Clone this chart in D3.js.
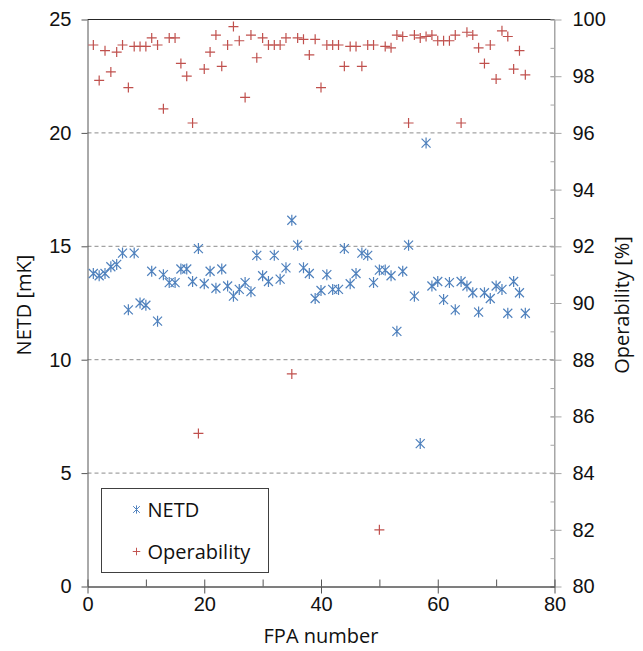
<!DOCTYPE html>
<html>
<head>
<meta charset="utf-8">
<script src="https://cdn.jsdelivr.net/npm/d3@7"></script>
<style>
  html, body { margin: 0; padding: 0; background: #fff; }
  svg { display: block; font-family: "Open Sans", sans-serif; }
  .axis text { font-size: 20px; fill: #111; }
</style>
</head>
<body>
<svg width="643" height="651"></svg>
<script>
// FPA index, one point per FPA
const fpa = [1,2,3,4,5,6,7,8,9,10,11,12,13,14,15,16,17,18,19,20,21,22,23,24,25,
  26,27,28,29,30,31,32,33,34,35,36,37,38,39,40,41,42,43,44,45,46,47,48,49,50,
  51,52,53,54,55,56,57,58,59,60,61,62,63,64,65,66,67,68,69,70,71,72,73,74,75]

// NETD [mK]
const netd = [13.8,13.7,13.8,14.1,14.2,14.7,12.2,14.7,12.5,12.4,13.9,11.7,13.75,13.4,13.4,
  14.0,14.0,13.45,14.9,13.35,13.9,13.15,14.0,13.25,12.8,13.1,13.4,13.0,14.6,13.7,
  13.45,14.6,13.55,14.05,16.15,15.05,14.05,13.8,12.7,13.05,13.75,13.1,13.1,14.9,13.35,
  13.8,14.7,14.6,13.4,13.95,13.95,13.7,11.25,13.9,15.05,12.8,6.3,19.55,13.25,13.45,
  12.65,13.4,12.2,13.45,13.25,12.95,12.1,12.95,12.7,13.25,13.1,12.05,13.45,12.95,12.05]

// Operability [%]
const operability = [99.1,97.85,98.9,98.15,98.85,99.1,97.6,99.05,99.05,99.05,99.35,99.1,96.85,99.35,99.35,
  98.45,98.0,96.35,85.4,98.25,98.85,99.45,98.35,99.1,99.75,99.25,97.25,99.45,98.65,99.35,
  99.1,99.1,99.1,99.35,87.5,99.35,99.3,98.75,99.3,97.6,99.1,99.1,99.1,98.35,99.05,
  99.05,98.35,99.1,99.1,82.0,99.05,99.0,99.45,99.4,96.35,99.45,99.35,99.4,99.45,99.25,
  99.25,99.25,99.45,96.35,99.55,99.45,99.0,98.45,99.1,97.9,99.6,99.4,98.25,98.9,98.05]

const xTicks = [0, 20, 40, 60, 80]
const xMinor = [0, 10, 20, 30, 40, 50, 60, 70, 80]
const yLeftTicks = [0, 5, 10, 15, 20, 25]
const yRightTicks = [80, 82, 84, 86, 88, 90, 92, 94, 96, 98, 100]
const yRightMinor = [80,81,82,83,84,85,86,87,88,89,90,91,92,93,94,95,96,97,98,99,100]

const blue = '#4f81bd'
const red = '#c0504d'

const pLeft = 87.5, pRight = 554.5, pTop = 19.5, pBottom = 586.5

const x = d3.scaleLinear().domain([0, 80]).range([pLeft, pRight])
const yL = d3.scaleLinear().domain([0, 25]).range([pBottom, pTop])
const yR = d3.scaleLinear().domain([80, 100]).range([pBottom, pTop])

const svg = d3.select('svg')

// dashed grid lines
svg.append('g')
  .selectAll('line')
  .data([5, 10, 15, 20])
  .join('line')
  .attr('x1', pLeft).attr('x2', pRight)
  .attr('y1', d => yL(d)).attr('y2', d => yL(d))
  .attr('stroke', '#8c8c8c')
  .attr('stroke-dasharray', '4,3')

// top border
svg.append('line')
  .attr('x1', pLeft).attr('x2', pRight)
  .attr('y1', pTop).attr('y2', pTop)
  .attr('stroke', '#262626')

// right axis (minor ticks inside, major ticks across)
svg.append('g')
  .attr('transform', `translate(${pRight},0)`)
  .call(d3.axisLeft(yR).tickValues(yRightMinor).tickSize(4).tickSizeOuter(0).tickFormat(''))
  .call(g => g.selectAll('line, path').attr('stroke', '#a6a6a6'))
svg.append('g')
  .attr('class', 'axis')
  .attr('transform', `translate(${pRight},0)`)
  .call(d3.axisRight(yR).tickValues(yRightTicks).tickSize(7).tickSizeOuter(0).tickPadding(11))
  .call(g => g.selectAll('line, path').attr('stroke', '#a6a6a6'))
  .call(g => g.selectAll('.tick line').attr('x1', -4))
  .call(g => g.select('.domain').remove())
svg.append('line')
  .attr('x1', pRight).attr('x2', pRight)
  .attr('y1', pTop).attr('y2', pBottom)
  .attr('stroke', '#a6a6a6')

// left axis
svg.append('g')
  .attr('class', 'axis')
  .attr('transform', `translate(${pLeft},0)`)
  .call(d3.axisLeft(yL).tickValues(yLeftTicks).tickSize(6).tickSizeOuter(0).tickPadding(10))
  .call(g => g.selectAll('line, path').attr('stroke', '#555'))

// bottom axis
svg.append('g')
  .attr('transform', `translate(0,${pBottom})`)
  .call(d3.axisTop(x).tickValues(xMinor).tickSize(7).tickSizeOuter(0).tickFormat(''))
  .call(g => g.selectAll('line, path').attr('stroke', '#555'))
svg.append('g')
  .attr('class', 'axis')
  .attr('transform', `translate(0,${pBottom})`)
  .call(d3.axisBottom(x).tickValues(xTicks).tickSize(7).tickSizeOuter(0).tickPadding(3))
  .call(g => g.selectAll('line, path').attr('stroke', '#555'))

// axis titles
svg.append('text')
  .attr('transform', `translate(31,${(pTop + pBottom) / 2 + 2}) rotate(-90)`)
  .attr('text-anchor', 'middle')
  .attr('font-size', 20)
  .attr('fill', '#111')
  .text('NETD [mK]')
svg.append('text')
  .attr('transform', `translate(629,${(pTop + pBottom) / 2 + 2}) rotate(-90)`)
  .attr('text-anchor', 'middle')
  .attr('font-size', 20)
  .attr('fill', '#111')
  .text('Operability [%]')
svg.append('text')
  .attr('x', (pLeft + pRight) / 2)
  .attr('y', 643)
  .attr('text-anchor', 'middle')
  .attr('font-size', 20)
  .attr('fill', '#111')
  .text('FPA number')

// markers
const starPath = 'M-4.5,-4.5L4.5,4.5M-4.5,4.5L4.5,-4.5M0,-5.5V5.5'
const plusPath = 'M-5,0H5M0,-5V5'

svg.append('g')
  .selectAll('path')
  .data(fpa)
  .join('path')
  .attr('transform', (d, i) => `translate(${x(d)},${yL(netd[i])})`)
  .attr('d', starPath)
  .attr('stroke', blue)
  .attr('stroke-width', 1.2)
  .attr('fill', 'none')

svg.append('g')
  .selectAll('path')
  .data(fpa)
  .join('path')
  .attr('transform', (d, i) => `translate(${x(d)},${yR(operability[i])})`)
  .attr('d', plusPath)
  .attr('stroke', red)
  .attr('stroke-width', 1.2)
  .attr('fill', 'none')

// legend
const legend = svg.append('g').attr('transform', 'translate(101.5,488.5)')
legend.append('rect')
  .attr('width', 167).attr('height', 84)
  .attr('fill', '#fff')
  .attr('stroke', '#404040')
const items = [
  { name: 'NETD', path: starPath, color: blue, y: 21 },
  { name: 'Operability', path: plusPath, color: red, y: 63 }
]
items.forEach(it => {
  legend.append('path')
    .attr('transform', `translate(35,${it.y}) scale(0.75)`)
    .attr('d', it.path)
    .attr('stroke', it.color)
    .attr('stroke-width', 1.3)
    .attr('fill', 'none')
  legend.append('text')
    .attr('x', 46).attr('y', it.y)
    .attr('dy', '0.35em')
    .attr('font-size', 20)
    .attr('fill', '#111')
    .text(it.name)
})
</script>
</body>
</html>
